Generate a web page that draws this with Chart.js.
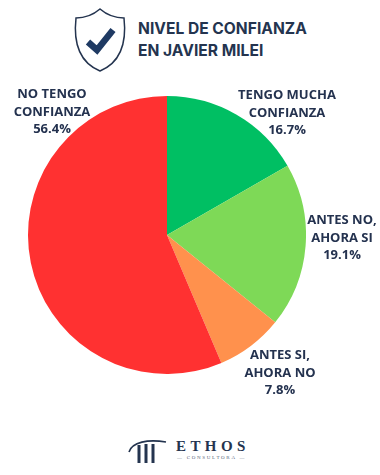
<!DOCTYPE html>
<html>
<head>
<meta charset="utf-8">
<script src="https://cdn.jsdelivr.net/npm/chart.js@4"></script>
<style>
    html, body { margin: 0; padding: 0; background: #fff; }
    #page { position: relative; width: 380px; height: 475px; overflow: hidden; background: #fff; }
    #pie { position: absolute; left: 28px; top: 96px; }
    .title { position: absolute; left: 138px; font: 700 15.6px Inter, sans-serif; color: #24344f; white-space: nowrap; }
    .lbl { position: absolute; width: 120px; text-align: center; font: 700 13px/17.5px "Open Sans", sans-serif; color: #24324f; white-space: pre-line; }
    #shield, #mark { position: absolute; }
    #ethos { position: absolute; left: 176px; top: 438px; font: 700 15px "Liberation Serif", serif; letter-spacing: 4.4px; color: #24344f; white-space: nowrap; }
    #consultora { position: absolute; left: 177px; top: 455px; font: 400 5px "Liberation Serif", serif; letter-spacing: 1.7px; color: #55637a; white-space: nowrap; }
</style>
</head>
<body>
<div id="page">
    <svg id="shield" style="left:70px;top:6px" width="72" height="68" viewBox="0 0 72 68">
        <path d="M30 3 C23 9 14 12 6 12 C4 30 6 55 30 65 C54 55 56 30 54 12 C46 12 37 9 30 3 Z" fill="none" stroke="#24344f" stroke-width="1.5"/>
        <path d="M18 36 L27 44 L43 24" fill="none" stroke="#1f3a63" stroke-width="6.5"/>
    </svg>
    <div class="title" style="top:19px">NIVEL DE CONFIANZA</div>
    <div class="title" style="top:41px">EN JAVIER MILEI</div>
    <canvas id="pie" width="278" height="278"></canvas>
    <svg id="mark" style="left:128px;top:438px" width="40" height="28" viewBox="0 0 40 28">
        <path d="M1 14 C4 4 20 1 38 4" fill="none" stroke="#24344f" stroke-width="1.6"/>
        <path d="M11 7 L11 25 M18 6 L18 25 M25 6 L25 25" fill="none" stroke="#24344f" stroke-width="3"/>
    </svg>
    <div id="ethos">ETHOS</div>
    <div id="consultora">— CONSULTORA —</div>
</div>
<script>
const categories = ['TENGO MUCHA\nCONFIANZA', 'ANTES NO,\nAHORA SI', 'ANTES SI,\nAHORA NO', 'NO TENGO\nCONFIANZA'];
const values = [16.7, 19.1, 7.8, 56.4];
const colors = ['#00bf63', '#7ed957', '#ff914d', '#ff3131'];
// label centre x / top y
const labelX = [287, 342, 280, 52];
const labelY = [86, 211, 346, 85];

new Chart(document.getElementById('pie').getContext('2d'), {
    type: 'pie',
    data: {
        labels: categories,
        datasets: [{
            data: values,
            backgroundColor: colors,
            borderWidth: 0
        }]
    },
    options: {
        responsive: false,
        animation: false,
        plugins: {
            legend: { display: false },
            tooltip: { enabled: false }
        }
    }
});

categories.forEach(function(name, i) {
    const d = document.createElement('div');
    d.className = 'lbl';
    d.style.left = (labelX[i] - 60) + 'px';
    d.style.top = labelY[i] + 'px';
    d.textContent = name + '\n' + values[i].toFixed(1) + '%';
    document.getElementById('page').appendChild(d);
});
</script>
</body>
</html>
